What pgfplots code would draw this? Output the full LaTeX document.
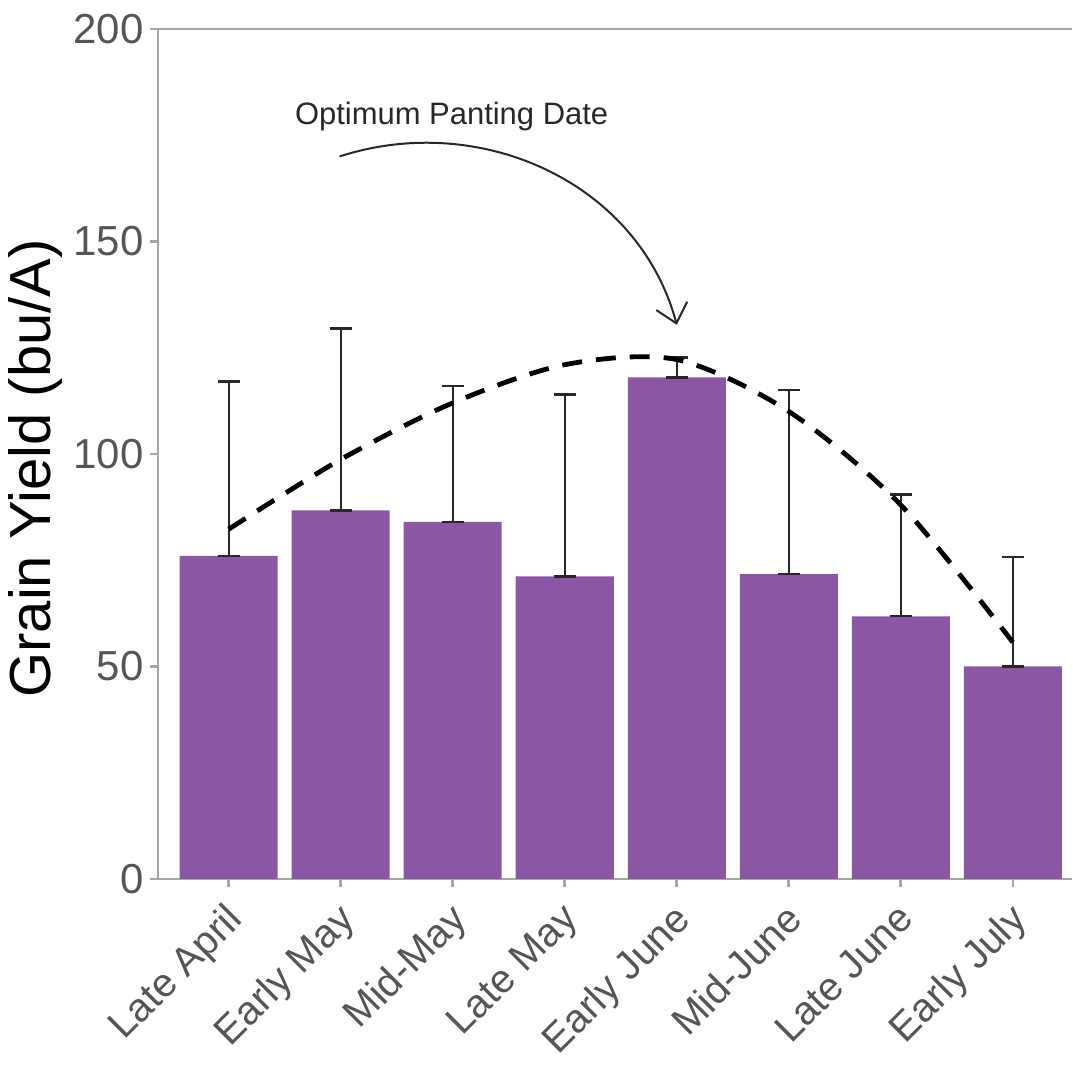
\documentclass[border=0pt]{standalone}
\usepackage{pgfplots}
\pgfplotsset{compat=1.18}
\usepackage{pgfplotstable}
\usepackage{fontspec}
\setmainfont{Liberation Sans}
\usetikzlibrary{calc,arrows.meta}
\definecolor{barpurple}{RGB}{139,87,165}
\definecolor{axisgray}{RGB}{166,166,166}
\definecolor{ticktext}{RGB}{85,85,85}
\definecolor{errgray}{RGB}{40,40,40}

\pgfplotstableread{
x y ep em
0 76.0 41.0 0
1 86.7 42.8 0
2 84.0 32.0 0
3 71.2 42.8 0
4 118.0 4.7 0
5 71.7 43.3 0
6 61.8 28.7 0
7 50.0 25.7 0
}\yielddata

\pgfplotstableread{
x y
0 82.3
1 98.7
2 112
3 121
4 122.2
5 110
6 88
7 55.7
}\trenddata

\begin{document}
\begin{tikzpicture}
\begin{axis}[
  scale only axis,
  width=457.5pt, height=425.5pt,
  xmin=-0.633, xmax=7.526,
  ymin=0, ymax=200,
  axis lines=left,
  axis line style={-, draw=axisgray, line width=1.3pt},
  tick style={draw=axisgray, line width=1.3pt},
  tick align=outside,
  major tick length=4pt,
  xtick={0,1,2,3,4,5,6,7},
  xticklabels={Late April,Early May,Mid-May,Late May,Early June,Mid-June,Late June,Early July},
  ytick={0,50,100,150,200},
  /pgf/number format/assume math mode=true,
  tick label style={font=\fontsize{21}{24}\selectfont, text=ticktext},
  xticklabel style={font=\fontsize{20}{23}\selectfont, xshift=-2.5pt, yshift=-4pt, rotate=45, anchor=north east, inner sep=2pt},
  yticklabel style={inner sep=3pt},
  ylabel={Grain Yield (bu/A)},
  every axis y label/.style={at={($(rel axis cs:0,0.483)+(-61pt,0)$)}, rotate=90, anchor=center, font=\fontsize{29}{32}\selectfont, text=black},
  clip=false,
]
\addplot[ybar, bar width=0.875, fill=barpurple, draw=none,
  error bars/.cd, y dir=both, y explicit,
  error bar style={line width=1.2pt, color=errgray},
  error mark options={rotate=90, mark size=5.5pt, line width=1.2pt, color=errgray}]
  table[x=x, y=y, y error plus=ep, y error minus=em] {\yielddata};
\addplot[black, line width=2.4pt, dash pattern=on 10pt off 7pt, smooth, mark=none] table[x=x,y=y] {\trenddata};
\draw[axisgray, line width=1.3pt] (rel axis cs:0,1) -- (rel axis cs:1,1);
\node[font=\fontsize{15.5}{18}\selectfont, text=errgray] at (axis cs:1.99,179.3) {Optimum Panting Date};
\draw[errgray, line width=1pt, -{Straight Barb[length=9pt, width=16pt, line width=1pt]}]
  (axis cs:0.99,170) to[out=18, in=105] (axis cs:4.0,130.4);
\end{axis}
\useasboundingbox ([xshift=-79pt,yshift=-94pt]current axis.south west) rectangle ([yshift=14.5pt]current axis.north east);
\end{tikzpicture}
\end{document}
